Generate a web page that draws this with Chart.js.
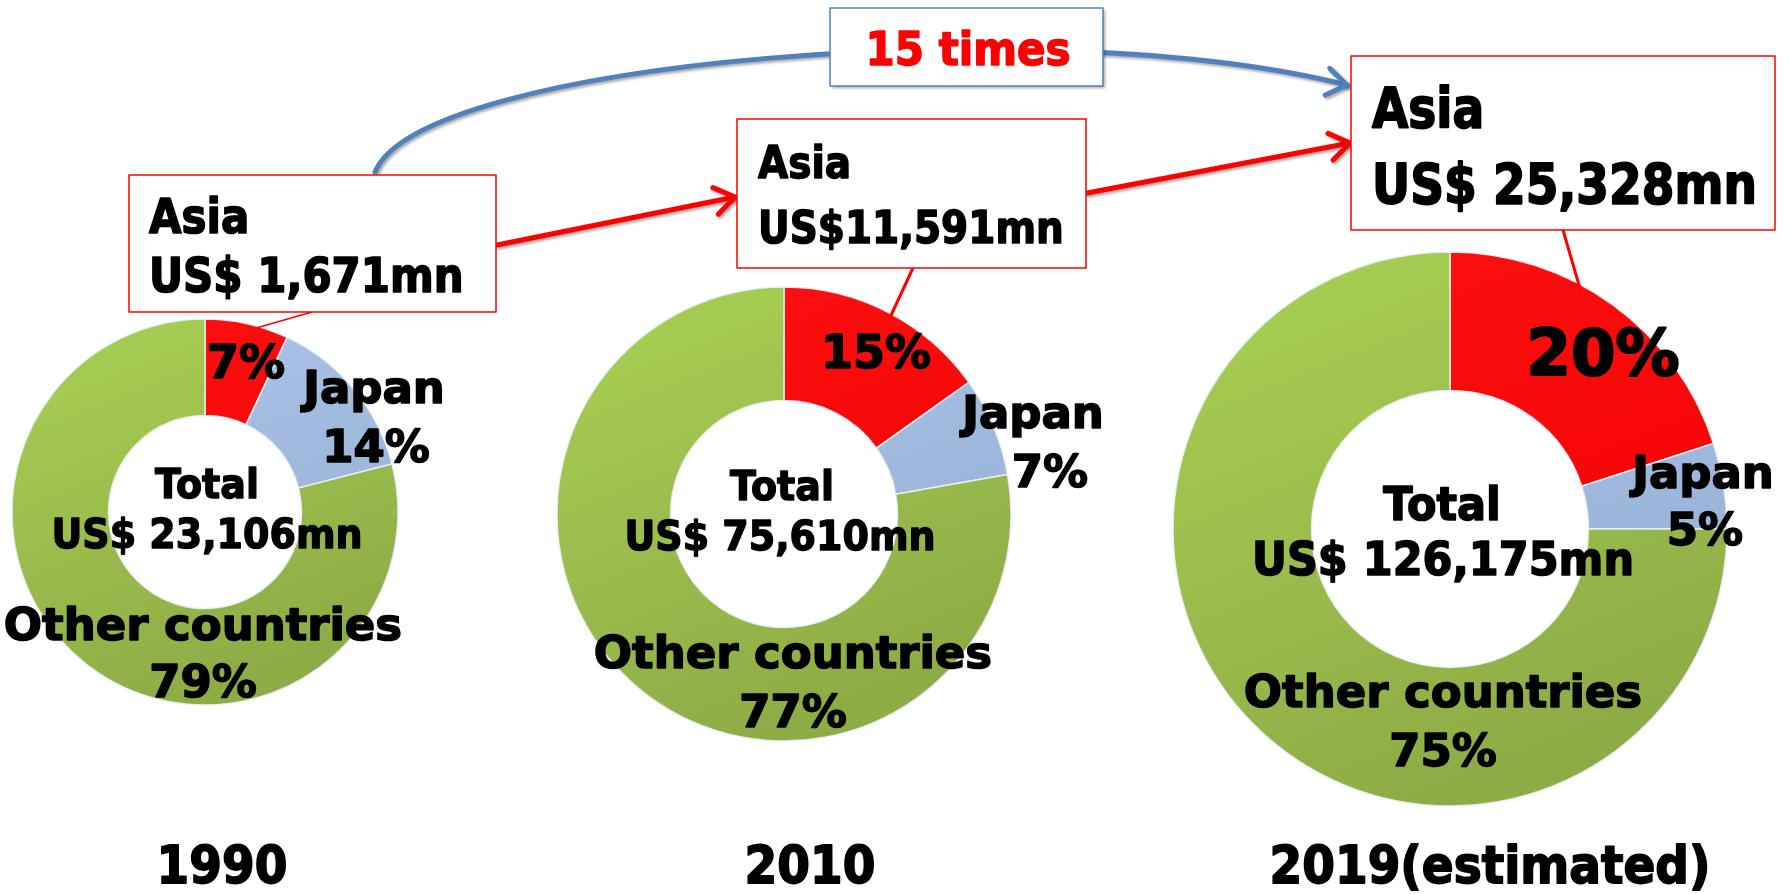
<!DOCTYPE html>
<html lang="en">
<head>
<meta charset="UTF-8">
<title>Asia share of total</title>
<script src="https://cdn.jsdelivr.net/npm/chart.js"></script>
<style>
  html, body { margin: 0; padding: 0; background: #fff; }
  #stage { position: relative; width: 1789px; height: 894px; overflow: hidden; }
  #stage canvas { position: absolute; }
  #overlay { left: 0; top: 0; z-index: 2; }
</style>
</head>
<body>
<div id="stage">
  <canvas id="donut1990"></canvas>
  <canvas id="donut2010"></canvas>
  <canvas id="donut2019"></canvas>
  <canvas id="overlay" width="1789" height="894"></canvas>
</div>
<script>
// data
const regions = ['Asia', 'Japan', 'Other countries'];
const years = ['1990', '2010', '2019(estimated)'];
const share1990 = [7, 14, 79];
const share2010 = [15, 7, 77];
const share2019 = [20, 5, 75];
const totalLabels = ['US$ 23,106mn', 'US$ 75,610mn', 'US$ 126,175mn'];
const asiaLabels = ['US$ 1,671mn', 'US$11,591mn', 'US$ 25,328mn'];
const growthLabel = '15 times';

const FONT = '"DejaVu Sans", Verdana, sans-serif';

// layout: donut centre/radius and label offsets (baseline) from the centre
// leader.f = how far along the Asia arc the leader line lands
const layout = [
    { id: 'donut1990', data: share1990, cx: 205, cy: 512, r: 193,
      pct: 45, asiaPct: 46, center: 38,
      asia: [41, -134], japan: [[169, -109], [171, -50]], other: [[-2, 128], [-2, 185]],
      total: [[2, -14], [2, 36]],
      box: { x: 129, y: 175, w: 367, h: 137, size: 42, sy: 1.13, lines: [233, 292], tx: 149 },
      leader: { x: 312, y: 312, w: 1.5, f: 0.58 }, year: [222, 883] },
    { id: 'donut2010', data: share2010, cx: 784, cy: 514, r: 227,
      pct: 45, asiaPct: 46, center: 38,
      asia: [92, -146], japan: [[249, -86], [266, -27]], other: [[9, 154], [9, 213]],
      total: [[-2, -14], [-4, 36]],
      box: { x: 737, y: 119, w: 349, h: 149, size: 39, sy: 1.12, lines: [178, 243], tx: 758 },
      leader: { x: 913, y: 268, w: 3, f: 0.52 }, year: [810, 883] },
    { id: 'donut2019', data: share2019, cx: 1450, cy: 529, r: 277,
      pct: 45, asiaPct: 64, center: 43,
      asia: [153, -154], japan: [[253, -41], [255, 16]], other: [[-7, 178], [-7, 237]],
      total: [[-8, -9], [-7, 46]],
      box: { x: 1351, y: 56, w: 424, h: 174, size: 47, sy: 1.18, lines: [127, 203], tx: 1372 },
      leader: { x: 1563, y: 230, w: 3, f: 0.4 }, year: [1490, 883] }
];

// light / dark shade of each region colour
const sliceShades = [
    ['#FF1212', '#F20000'],
    ['#AFC8EA', '#94AFD4'],
    ['#A9D254', '#8EAC46']
];

function sliceFill(context) {
    const shade = sliceShades[context.dataIndex] || sliceShades[2];
    const area = context.chart.chartArea;
    if (!area) return shade[1];
    const g = context.chart.ctx.createLinearGradient(area.left, area.top, area.left + area.width * 0.4, area.bottom);
    g.addColorStop(0, shade[0]);
    g.addColorStop(1, shade[1]);
    return g;
}

const charts = layout.map(d => {
    const canvas = document.getElementById(d.id);
    const pad = 4;
    const size = 2 * d.r + 2 * pad;
    canvas.width = size;
    canvas.height = size;
    canvas.style.left = (d.cx - d.r - pad) + 'px';
    canvas.style.top = (d.cy - d.r - pad) + 'px';
    d.left = d.cx - d.r - pad;
    d.top = d.cy - d.r - pad;
    return new Chart(canvas.getContext('2d'), {
        type: 'doughnut',
        data: {
            labels: regions,
            datasets: [{
                data: d.data,
                backgroundColor: sliceFill,
                borderColor: 'rgba(235,242,250,0.9)',
                borderWidth: 1.5
            }]
        },
        options: {
            responsive: false,
            devicePixelRatio: 1,
            animation: false,
            radius: d.r,
            cutout: '50%',
            plugins: { legend: { display: false }, tooltip: { enabled: false } }
        }
    });
});

// annotations
const ov = document.getElementById('overlay').getContext('2d');

// sy stretches the glyphs vertically a little (the original face is taller)
function text(str, x, y, size, align, color, sy) {
    ov.save();
    ov.translate(x, y);
    ov.scale(1, sy || 1);
    ov.font = 'bold ' + size + 'px ' + FONT;
    ov.textAlign = align || 'center';
    ov.textBaseline = 'alphabetic';
    ov.fillStyle = color || '#000';
    ov.strokeStyle = color || '#000';
    ov.lineWidth = size * 0.035;
    ov.lineJoin = 'round';
    ov.fillText(str, 0, 0);
    ov.strokeText(str, 0, 0);
    ov.restore();
}

function shadowOn() {
    ov.shadowColor = 'rgba(0,0,0,0.35)';
    ov.shadowOffsetX = 2;
    ov.shadowOffsetY = 2;
    ov.shadowBlur = 3;
}
function shadowOff() {
    ov.shadowColor = 'transparent';
    ov.shadowBlur = 0;
    ov.shadowOffsetX = 0;
    ov.shadowOffsetY = 0;
}

function chevron(x, y, angle, len) {
    ov.beginPath();
    ov.moveTo(x - len * Math.cos(angle - 0.6), y - len * Math.sin(angle - 0.6));
    ov.lineTo(x, y);
    ov.lineTo(x - len * Math.cos(angle + 0.6), y - len * Math.sin(angle + 0.6));
    ov.stroke();
}

function arrow(x1, y1, x2, y2, color) {
    ov.strokeStyle = color;
    ov.lineWidth = 5;
    ov.lineCap = 'round';
    ov.lineJoin = 'round';
    ov.beginPath();
    ov.moveTo(x1, y1);
    ov.lineTo(x2, y2);
    ov.stroke();
    chevron(x2, y2, Math.atan2(y2 - y1, x2 - x1), 24);
}

// blue curved arrow from the 1990 box to the 2019 box
shadowOn();
ov.strokeStyle = '#4F81BD';
ov.lineWidth = 5;
ov.lineCap = 'round';
ov.lineJoin = 'round';
ov.beginPath();
ov.moveTo(375, 172);
ov.bezierCurveTo(420, 60, 1050, 10, 1347, 85);
ov.stroke();
chevron(1347, 85, Math.atan2(85 - 10, 1347 - 1050) - 0.08, 24);

// "15 times" box
ov.fillStyle = '#fff';
ov.fillRect(830, 8, 273, 78);
shadowOff();
ov.strokeStyle = '#4F81BD';
ov.lineWidth = 1.5;
ov.strokeRect(830, 8, 273, 78);
text(growthLabel, 968, 65, 42, 'center', '#FF0000', 1.08);

// red arrows between Asia boxes
shadowOn();
arrow(497, 245, 735, 197, '#FF0000');
arrow(1087, 193, 1350, 143, '#FF0000');
shadowOff();

layout.forEach((d, i) => {
    const chart = charts[i];
    const arc = chart.getDatasetMeta(0).data[0];
    const p = arc.getProps(['x', 'y', 'startAngle', 'endAngle', 'outerRadius'], true);
    const ang = p.startAngle + (p.endAngle - p.startAngle) * d.leader.f;
    const ex = d.left + p.x + Math.cos(ang) * p.outerRadius * 0.98;
    const ey = d.top + p.y + Math.sin(ang) * p.outerRadius * 0.98;

    // leader line from box to Asia slice
    ov.strokeStyle = '#FF0000';
    ov.lineWidth = d.leader.w;
    ov.lineCap = 'butt';
    ov.beginPath();
    ov.moveTo(d.leader.x, d.leader.y);
    ov.lineTo(ex, ey);
    ov.stroke();

    // Asia box
    const b = d.box;
    ov.fillStyle = '#fff';
    ov.fillRect(b.x, b.y, b.w, b.h);
    ov.strokeStyle = '#FF0000';
    ov.lineWidth = 1.5;
    ov.strokeRect(b.x, b.y, b.w, b.h);
    text(regions[0], b.tx, b.lines[0], b.size, 'left', '#000', b.sy);
    text(asiaLabels[i], b.tx, b.lines[1], b.size, 'left', '#000', b.sy);

    // slice labels
    text(d.data[0] + '%', d.cx + d.asia[0], d.cy + d.asia[1], d.asiaPct);
    text(regions[1], d.cx + d.japan[0][0], d.cy + d.japan[0][1], d.pct);
    text(d.data[1] + '%', d.cx + d.japan[1][0], d.cy + d.japan[1][1], d.pct);
    text(regions[2], d.cx + d.other[0][0], d.cy + d.other[0][1], d.pct);
    text(d.data[2] + '%', d.cx + d.other[1][0], d.cy + d.other[1][1], d.pct);

    // centre total
    text('Total', d.cx + d.total[0][0], d.cy + d.total[0][1], d.center, 'center', '#000', 1.08);
    text(totalLabels[i], d.cx + d.total[1][0], d.cy + d.total[1][1], d.center, 'center', '#000', 1.08);

    // year under each donut
    text(years[i], d.year[0], d.year[1], 47, 'center', '#000', 1.1);
});
</script>
</body>
</html>
